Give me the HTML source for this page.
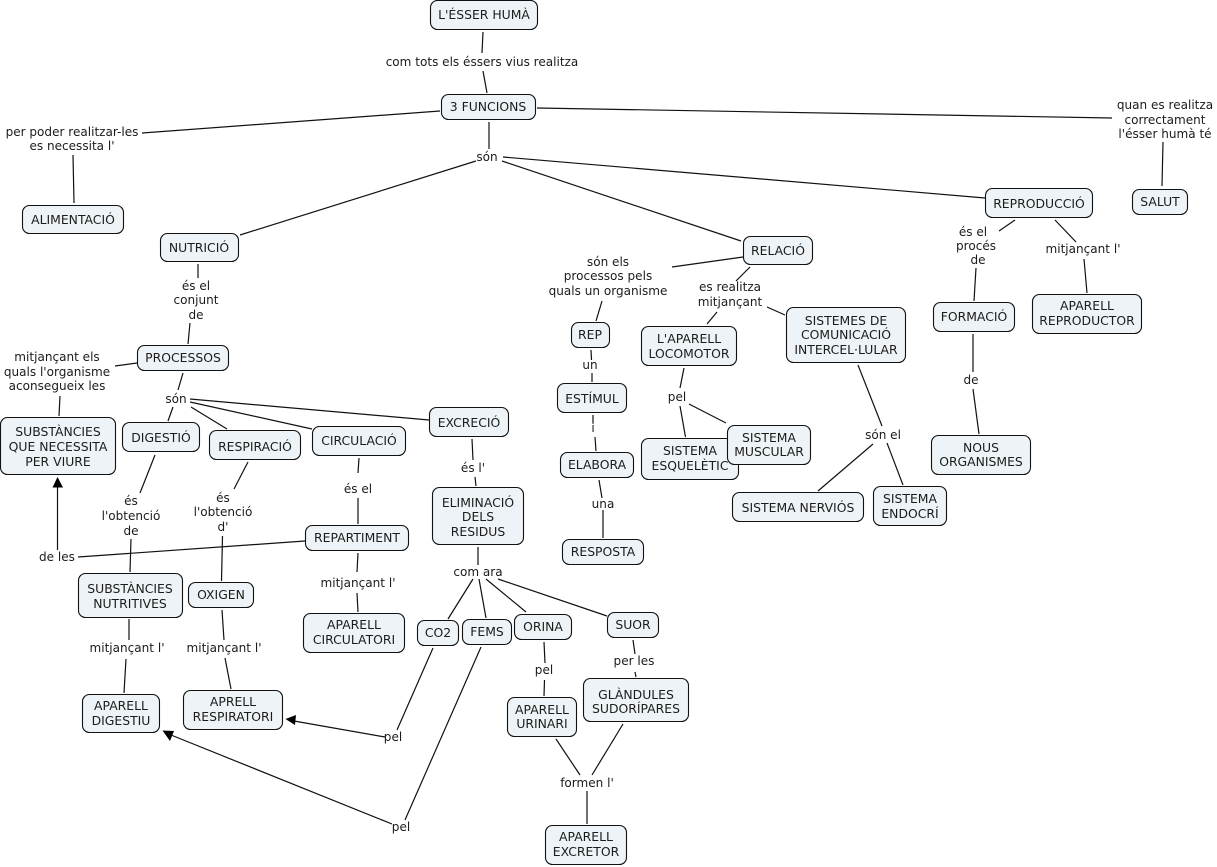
<!DOCTYPE html>
<html><head><meta charset="utf-8"><style>
html,body{margin:0;padding:0;background:#fff;width:1217px;height:867px;overflow:hidden}
svg{display:block}
text{font-family:"DejaVu Sans","Liberation Sans",sans-serif;font-size:12.05px;fill:#1c1c1c;text-anchor:middle}
.t text{font-size:12.4px}
.l line{stroke:#111;stroke-width:1.2}
.n rect{fill:#edf3f6;stroke:#111;stroke-width:1.1}
</style></head><body>
<svg width="1217" height="867" viewBox="0 0 1217 867" xmlns="http://www.w3.org/2000/svg">
<g class="l">
<line x1="483" y1="32" x2="482" y2="53"/><line x1="483" y1="71" x2="487" y2="93"/>
<line x1="440" y1="111" x2="142" y2="133"/><line x1="537" y1="108" x2="1112" y2="118"/>
<line x1="1163" y1="142" x2="1162" y2="186"/><line x1="73" y1="155" x2="74" y2="203"/>
<line x1="489" y1="122" x2="489" y2="149"/><line x1="503" y1="157" x2="985" y2="198"/>
<line x1="502" y1="161" x2="741" y2="241"/><line x1="476" y1="161" x2="240" y2="235"/>
<line x1="198" y1="264" x2="198" y2="278"/><line x1="190" y1="323" x2="188" y2="344"/>
<line x1="137" y1="363" x2="115" y2="366"/><line x1="60" y1="396" x2="59" y2="416"/>
<line x1="183" y1="373" x2="178" y2="390"/><line x1="173" y1="407" x2="168" y2="421"/>
<line x1="191" y1="407" x2="227" y2="429"/><line x1="190" y1="402" x2="312" y2="429"/>
<line x1="190" y1="399" x2="429" y2="420"/><line x1="155" y1="455" x2="140" y2="493"/>
<line x1="248" y1="462" x2="234" y2="489"/><line x1="131" y1="539" x2="130" y2="572"/>
<line x1="222.500" y1="536" x2="221.500" y2="581"/><line x1="78" y1="557" x2="305" y2="541"/>
<line x1="57.500" y1="550" x2="57.500" y2="486"/>
<line x1="359" y1="458" x2="358" y2="473"/><line x1="358" y1="498" x2="358" y2="524"/>
<line x1="358" y1="553" x2="357" y2="572"/><line x1="357" y1="593" x2="358" y2="612"/>
<line x1="129" y1="619" x2="129" y2="640"/><line x1="126" y1="659" x2="124" y2="693"/>
<line x1="222" y1="610" x2="224" y2="640"/><line x1="225" y1="658" x2="231" y2="689"/>
<line x1="472" y1="439" x2="473" y2="460"/><line x1="475" y1="477" x2="476" y2="486"/>
<line x1="478" y1="547" x2="478" y2="565"/><line x1="473" y1="579" x2="448" y2="619"/>
<line x1="479" y1="579" x2="486" y2="618"/><line x1="486" y1="579" x2="526" y2="612"/>
<line x1="498" y1="579" x2="607" y2="616"/><line x1="544" y1="642" x2="545" y2="663"/>
<line x1="544.500" y1="680" x2="544" y2="696"/><line x1="633" y1="640" x2="635" y2="654"/>
<line x1="635" y1="672" x2="636" y2="677"/><line x1="556" y1="739" x2="580" y2="775"/>
<line x1="623" y1="724" x2="592" y2="775"/><line x1="587" y1="791" x2="587" y2="824"/>
<line x1="433" y1="648" x2="397" y2="730"/><line x1="385" y1="737" x2="294" y2="721"/>
<line x1="481" y1="647" x2="405" y2="820"/><line x1="392" y1="824" x2="171" y2="735"/>
<line x1="743" y1="257" x2="672" y2="267"/><line x1="602" y1="301" x2="596" y2="321"/>
<line x1="750" y1="267" x2="748" y2="269"/><line x1="748" y1="269" x2="736" y2="281"/><line x1="717" y1="312" x2="707" y2="324"/>
<line x1="767" y1="307" x2="785" y2="315"/><line x1="684" y1="368" x2="680" y2="388"/>
<line x1="680" y1="406" x2="685.500" y2="437"/><line x1="689" y1="404" x2="726" y2="423"/>
<line x1="858" y1="365" x2="882" y2="426"/><line x1="873" y1="444" x2="818" y2="491"/>
<line x1="887" y1="443" x2="903" y2="485"/><line x1="591" y1="350" x2="591.500" y2="360"/>
<line x1="592" y1="373" x2="592" y2="382"/><line x1="593" y1="415" x2="593" y2="423"/>
<line x1="595" y1="437" x2="596" y2="451"/><line x1="599" y1="480" x2="602" y2="498"/>
<line x1="603" y1="510" x2="603" y2="538"/><line x1="1015" y1="220" x2="999" y2="231"/>
<line x1="1055" y1="220" x2="1076" y2="242"/><line x1="1084" y1="259" x2="1087" y2="293"/>
<line x1="976" y1="268" x2="974" y2="301"/><line x1="973" y1="334" x2="973" y2="372"/>
<line x1="973" y1="389" x2="979" y2="434"/>
</g>
<polygon points="57.500,477 63,487.500 52.500,487.500" fill="#000"/>
<polygon points="285.500,719 296,715 295,725" fill="#000"/>
<polygon points="162.500,730.500 174,731 170,741" fill="#000"/>
<g class="n">
<rect x="430.500" y="0.500" width="107" height="29" rx="7"/>
<rect x="441.500" y="94.500" width="94" height="25" rx="7"/>
<rect x="22.500" y="205.500" width="101" height="28" rx="7"/>
<rect x="160.500" y="233.500" width="78" height="28" rx="7"/>
<rect x="743.500" y="236.500" width="69" height="28" rx="7"/>
<rect x="985.500" y="188.500" width="107" height="29" rx="7"/>
<rect x="1132.500" y="189.500" width="55" height="25" rx="7"/>
<rect x="137.500" y="345.500" width="91" height="25" rx="7"/>
<rect x="0.500" y="417.500" width="115" height="57" rx="7"/>
<rect x="122.500" y="422.500" width="77" height="29" rx="7"/>
<rect x="209.500" y="430.500" width="91" height="29" rx="7"/>
<rect x="312.500" y="426.500" width="93" height="29" rx="7"/>
<rect x="429.500" y="407.500" width="79" height="29" rx="7"/>
<rect x="432.500" y="487.500" width="91" height="57" rx="7"/>
<rect x="305.500" y="525.500" width="103" height="25" rx="7"/>
<rect x="78.500" y="573.500" width="104" height="44" rx="7"/>
<rect x="188.500" y="582.500" width="65" height="25" rx="7"/>
<rect x="303.500" y="613.500" width="101" height="39" rx="7"/>
<rect x="82.500" y="694.500" width="77" height="38" rx="7"/>
<rect x="183.500" y="690.500" width="99" height="39" rx="7"/>
<rect x="417.500" y="620.500" width="41" height="25" rx="7"/>
<rect x="462.500" y="619.500" width="49" height="25" rx="7"/>
<rect x="514.500" y="614.500" width="57" height="25" rx="7"/>
<rect x="607.500" y="612.500" width="51" height="25" rx="7"/>
<rect x="507.500" y="697.500" width="69" height="39" rx="7"/>
<rect x="583.500" y="678.500" width="105" height="43" rx="7"/>
<rect x="545.500" y="825.500" width="81" height="39" rx="7"/>
<rect x="571.500" y="322.500" width="38" height="25" rx="7"/>
<rect x="557.500" y="383.500" width="69" height="29" rx="7"/>
<rect x="560.500" y="452.500" width="73" height="25" rx="7"/>
<rect x="562.500" y="539.500" width="81" height="25" rx="7"/>
<rect x="641.500" y="326.500" width="95" height="39" rx="7"/>
<rect x="786.500" y="307.500" width="119" height="55" rx="7"/>
<rect x="641.500" y="438.500" width="97" height="41" rx="7"/>
<rect x="727.500" y="425.500" width="83" height="39" rx="7"/>
<rect x="732.500" y="492.500" width="131" height="29" rx="7"/>
<rect x="873.500" y="486.500" width="73" height="39" rx="7"/>
<rect x="933.500" y="302.500" width="81" height="29" rx="7"/>
<rect x="1032.500" y="294.500" width="109" height="39" rx="7"/>
<rect x="931.500" y="435.500" width="99" height="39" rx="7"/>
</g>
<g class="t">
<text x="484" y="19">L'ÉSSER HUMÀ</text>
<text x="488" y="111">3 FUNCIONS</text>
<text x="73" y="224">ALIMENTACIÓ</text>
<text x="199" y="252">NUTRICIÓ</text>
<text x="778" y="255">RELACIÓ</text>
<text x="1039" y="208">REPRODUCCIÓ</text>
<text x="1160" y="206">SALUT</text>
<text x="183" y="362">PROCESSOS</text>
<text x="58" y="436">SUBSTÀNCIES</text><text x="58" y="451">QUE NECESSITA</text><text x="58" y="466">PER VIURE</text>
<text x="161" y="442">DIGESTIÓ</text>
<text x="255" y="451">RESPIRACIÓ</text>
<text x="359" y="445">CIRCULACIÓ</text>
<text x="469" y="427">EXCRECIÓ</text>
<text x="478" y="507">ELIMINACIÓ</text><text x="478" y="521">DELS</text><text x="478" y="536">RESIDUS</text>
<text x="357" y="542">REPARTIMENT</text>
<text x="130" y="593">SUBSTÀNCIES</text><text x="130" y="608">NUTRITIVES</text>
<text x="221" y="599">OXIGEN</text>
<text x="354" y="629">APARELL</text><text x="354" y="644">CIRCULATORI</text>
<text x="121" y="710">APARELL</text><text x="121" y="725">DIGESTIU</text>
<text x="233" y="706">APRELL</text><text x="233" y="721">RESPIRATORI</text>
<text x="438" y="637">CO2</text>
<text x="487" y="636">FEMS</text>
<text x="543" y="631">ORINA</text>
<text x="633" y="629">SUOR</text>
<text x="542" y="714">APARELL</text><text x="542" y="728">URINARI</text>
<text x="636" y="699">GLÀNDULES</text><text x="636" y="713">SUDORÍPARES</text>
<text x="586" y="841">APARELL</text><text x="586" y="856">EXCRETOR</text>
<text x="590" y="339">REP</text>
<text x="592" y="403">ESTÍMUL</text>
<text x="597" y="469">ELABORA</text>
<text x="603" y="556">RESPOSTA</text>
<text x="689" y="343">L'APARELL</text><text x="689" y="358">LOCOMOTOR</text>
<text x="846" y="325">SISTEMES DE</text><text x="846" y="339">COMUNICACIÓ</text><text x="846" y="354">INTERCEL·LULAR</text>
<text x="690" y="455">SISTEMA</text><text x="690" y="470">ESQUELÈTIC</text>
<text x="769" y="442">SISTEMA</text><text x="769" y="456">MUSCULAR</text>
<text x="798" y="512">SISTEMA NERVIÓS</text>
<text x="910" y="503">SISTEMA</text><text x="910" y="518">ENDOCRÍ</text>
<text x="974" y="321">FORMACIÓ</text>
<text x="1087" y="310">APARELL</text><text x="1087" y="325">REPRODUCTOR</text>
<text x="981" y="452">NOUS</text><text x="981" y="466">ORGANISMES</text>
</g>
<g>
<text x="482" y="66">com tots els éssers vius realitza</text>
<text x="72" y="136">per poder realitzar-les</text><text x="72" y="150">es necessita l'</text>
<text x="1165" y="109">quan es realitza</text><text x="1165" y="124">correctament</text><text x="1165" y="138">l'ésser humà té</text>
<text x="487" y="161">són</text>
<text x="196" y="290">és el</text><text x="196" y="304">conjunt</text><text x="196" y="319">de</text>
<text x="57" y="361">mitjançant els</text><text x="57" y="376">quals l'organisme</text><text x="57" y="390">aconsegueix les</text>
<text x="176" y="403">són</text>
<text x="131" y="505">és</text><text x="131" y="520">l'obtenció</text><text x="131" y="535">de</text>
<text x="223" y="502">és</text><text x="223" y="516">l'obtenció</text><text x="223" y="531">d'</text>
<text x="57" y="561">de les</text>
<text x="358" y="493">és el</text>
<text x="358" y="587">mitjançant l'</text>
<text x="473" y="472">és l'</text>
<text x="478" y="576">com ara</text>
<text x="127" y="652">mitjançant l'</text>
<text x="224" y="652">mitjançant l'</text>
<text x="544" y="674">pel</text>
<text x="634" y="665">per les</text>
<text x="587" y="787">formen l'</text>
<text x="393" y="741">pel</text>
<text x="401" y="831">pel</text>
<text x="608" y="266">són els</text><text x="608" y="280">processos pels</text><text x="608" y="295">quals un organisme</text>
<text x="590" y="369">un</text>
<text x="593" y="432">i</text>
<text x="603" y="508">una</text>
<text x="730" y="291">es realitza</text><text x="730" y="306">mitjançant</text>
<text x="677" y="401">pel</text>
<text x="883" y="439">són el</text>
<text x="973" y="236">és el</text><text x="976" y="250">procés</text><text x="978" y="264">de</text>
<text x="1083" y="253">mitjançant l'</text>
<text x="971" y="384">de</text>
</g>
</svg>
</body></html>
